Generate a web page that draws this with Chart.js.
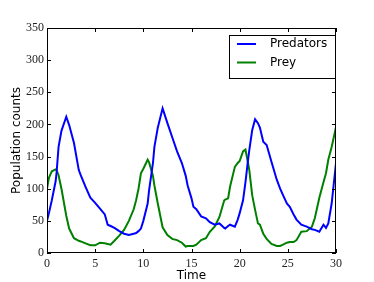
<!DOCTYPE html>
<html>
<head>
<meta charset="utf-8">
<script src="https://cdn.jsdelivr.net/npm/chart.js@4.4.0/dist/chart.umd.min.js"></script>
<style>
  html, body { margin: 0; padding: 0; background: #fff; }
</style>
</head>
<body>
<canvas id="chart" width="374" height="282"></canvas>
<script>
// values
const time = [0, 0.2, 0.5, 0.9, 1.0, 1.2, 1.5, 2.0, 2.3, 2.8, 3.3, 3.5, 4.0, 4.5, 5.0, 5.5, 6.0, 6.3, 6.6,
  7.0, 7.5, 8.0, 8.5, 9.0, 9.25, 9.5, 9.75, 10.0, 10.45, 10.6, 11.0, 11.15, 11.5, 12.0, 12.5, 13.0, 13.5,
  14.0, 14.4, 14.6, 15.0, 15.2, 15.5, 16.0, 16.5, 16.9, 17.4, 17.9, 18.4, 18.5, 18.8, 19.0, 19.5, 19.8,
  20.0, 20.35, 20.6, 20.87, 21.0, 21.3, 21.6, 21.9, 22.1, 22.45, 22.8, 23.3, 23.85, 24.2, 24.5, 24.9,
  25.2, 25.6, 25.9, 26.4, 26.96, 27.5, 27.8, 28.27, 28.7, 28.96, 29.2, 29.55, 30.0]
const predators = [50, 62, 82, 112, 126, 165, 190, 212, 199, 171, 129, 121, 103, 86, 78, 69, 60, 44, 42,
  39, 34, 30, 28, 30, 31, 34, 38, 50, 77, 98, 140, 165, 195, 225, 202, 180, 158,
  140, 120, 105, 85, 72, 68, 57, 54, 48, 44, 46, 39, 38, 42, 44, 41, 52,
  62, 82, 110, 145, 160, 191, 208, 202, 195, 173, 168, 142, 114, 100, 90, 77,
  72, 60, 52, 44, 41, 37, 36, 33, 44, 39, 46, 77, 140]
const prey = [100, 117, 127, 130, 129, 121, 100, 58, 38, 23, 19, 18, 15, 12, 12, 16, 15, 14, 13,
  19, 27, 36, 50, 68, 82, 100, 124, 131, 145, 141, 120, 105, 77, 40, 28, 22, 20,
  16, 10, 11, 11, 11, 13, 20, 23, 33, 41, 56, 82, 83, 85, 103, 134, 140,
  143, 158, 161, 140, 129, 90, 67, 46, 44, 30, 22, 14, 11, 11, 13, 16,
  17, 17, 20, 33, 34, 41, 54, 86, 110, 124, 145, 165, 196]
const xTicks = [0, 5, 10, 15, 20, 25, 30]
const yTicks = [0, 50, 100, 150, 200, 250, 300, 350]

const tickFont = { family: "'Liberation Serif', serif", size: 12 }
const labelFont = { family: "'DejaVu Sans', sans-serif", size: 12, lineHeight: 1 }

// matplotlib classic look: box frame, inward ticks on all sides, legend in the corner
const framePlugin = {
  id: 'frame',
  afterDatasetsDraw(chart){
    const { ctx, chartArea: a, scales } = chart
    ctx.save()
    ctx.strokeStyle = '#000'
    ctx.lineWidth = 1
    ctx.strokeRect(a.left + 0.5, a.top + 0.5, a.right - a.left - 1, a.bottom - a.top - 1)
    ctx.beginPath()
    const len = 4
    xTicks.forEach(v => {
      const x = Math.round(scales.x.getPixelForValue(v)) + 0.5
      ctx.moveTo(x, a.bottom); ctx.lineTo(x, a.bottom - len)
      ctx.moveTo(x, a.top); ctx.lineTo(x, a.top + len)
    })
    yTicks.forEach(v => {
      const y = Math.round(scales.y.getPixelForValue(v)) + 0.5
      ctx.moveTo(a.left, y); ctx.lineTo(a.left + len, y)
      ctx.moveTo(a.right, y); ctx.lineTo(a.right - len, y)
    })
    ctx.stroke()

    // legend box
    const bw = 106, bh = 43
    const bx = a.right - 1 - bw, by = a.top + 7
    ctx.fillStyle = '#fff'
    ctx.fillRect(bx, by, bw, bh)
    ctx.strokeRect(bx + 0.5, by + 0.5, bw, bh)
    ctx.font = "12px 'DejaVu Sans', sans-serif"
    ctx.textBaseline = 'middle'
    chart.data.datasets.forEach((ds, i) => {
      const y = by + 9 + i * 18.5
      ctx.strokeStyle = ds.borderColor
      ctx.lineWidth = 2
      ctx.beginPath()
      ctx.moveTo(bx + 8, y); ctx.lineTo(bx + 27, y)
      ctx.stroke()
      ctx.fillStyle = '#000'
      ctx.fillText(ds.label, bx + 41, y)
    })
    ctx.restore()
  }
}

new Chart(document.getElementById('chart'), {
  type: 'line',
  data: {
    datasets: [
      { label: 'Predators', data: time.map((t, i) => ({ x: t, y: predators[i] })), borderColor: '#0000ff' },
      { label: 'Prey', data: time.map((t, i) => ({ x: t, y: prey[i] })), borderColor: '#008000' },
    ]
  },
  options: {
    responsive: false,
    animation: false,
    devicePixelRatio: 1,
    layout: { padding: { left: 0, right: 38, top: 28, bottom: 0 } },
    elements: {
      line: { borderWidth: 2, tension: 0, fill: false },
      point: { radius: 0 }
    },
    plugins: {
      legend: { display: false },
      tooltip: { enabled: false }
    },
    scales: {
      x: {
        type: 'linear',
        min: 0, max: 30,
        afterBuildTicks: s => { s.ticks = xTicks.map(v => ({ value: v })) },
        afterFit: s => { s.height = 29 },
        grid: { display: false, drawTicks: false },
        border: { display: false },
        ticks: { font: tickFont, color: '#222', padding: 4, maxRotation: 0 },
        title: { display: true, text: 'Time', font: labelFont, color: '#000', padding: 0 }
      },
      y: {
        min: 0, max: 350,
        afterBuildTicks: s => { s.ticks = yTicks.map(v => ({ value: v })) },
        afterFit: s => { s.width = 47 },
        grid: { display: false, drawTicks: false },
        border: { display: false },
        ticks: { font: tickFont, color: '#222', padding: 3 },
        title: { display: true, text: 'Population counts', font: labelFont, color: '#000', padding: { top: 11, bottom: 0 } }
      }
    }
  },
  plugins: [framePlugin]
})
</script>
</body>
</html>
